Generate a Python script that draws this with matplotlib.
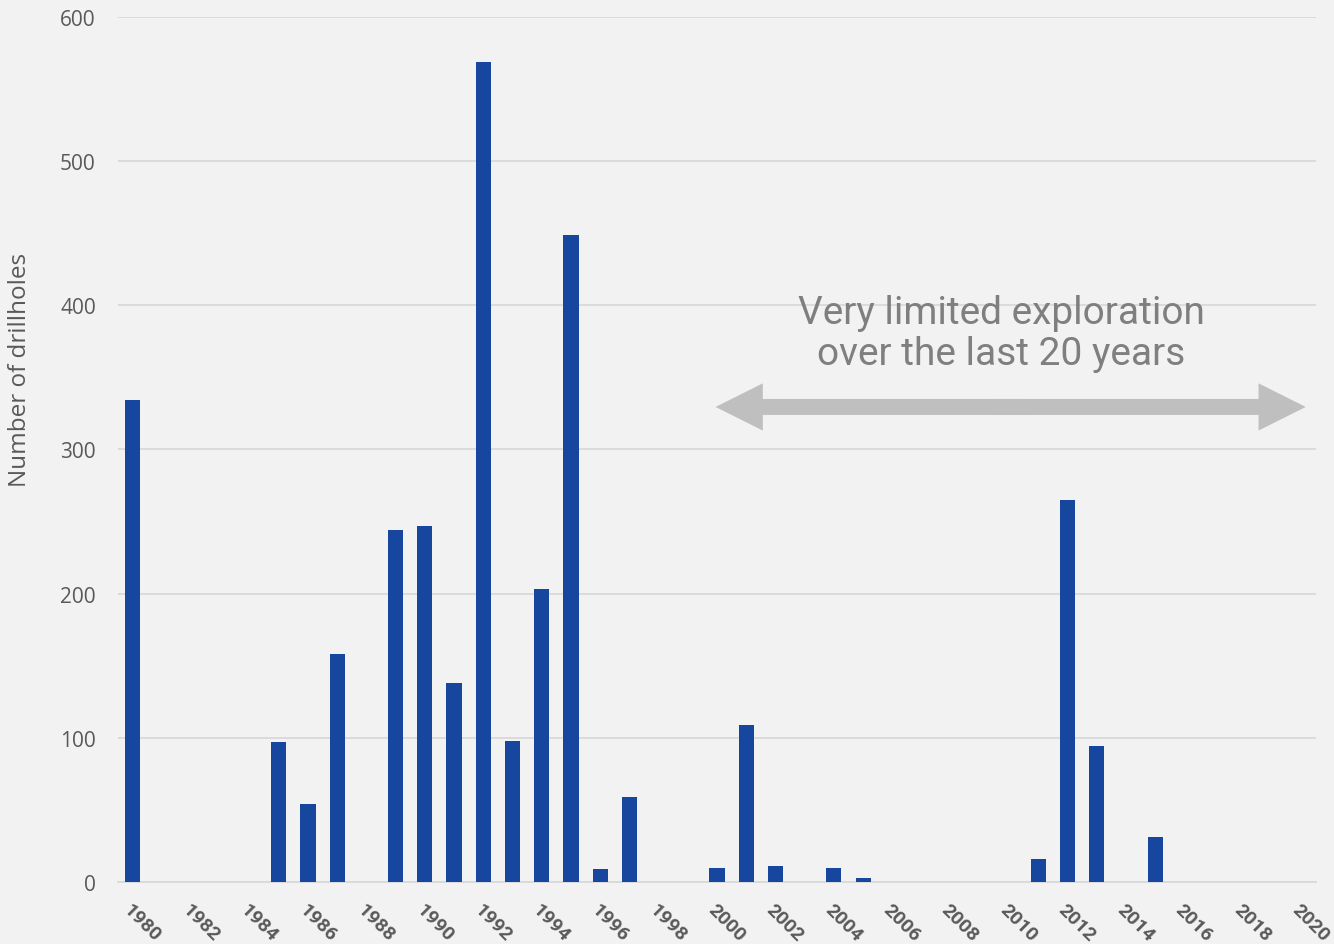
import matplotlib
matplotlib.use("Agg")
import matplotlib.pyplot as plt
from matplotlib.patches import ArrowStyle

years = list(range(1980, 2021))
values = {1980: 334, 1985: 97, 1986: 54, 1987: 158, 1989: 244, 1990: 247,
          1991: 138, 1992: 569, 1993: 98, 1994: 203, 1995: 449, 1996: 9,
          1997: 59, 2000: 10, 2001: 109, 2002: 11, 2004: 10, 2005: 3,
          2011: 16, 2012: 265, 2013: 94, 2015: 31}
counts = [values.get(y, 0) for y in years]
tick_years = list(range(1980, 2021, 2))
yticks = [0, 100, 200, 300, 400, 500, 600]

bg = "#F2F2F2"
fig = plt.figure(figsize=(13.34, 9.45), dpi=100, facecolor=bg)
ax = fig.add_axes([0.0885, 0.0656, 0.898, 0.9154])
ax.set_facecolor(bg)

ax.bar(years, counts, width=0.52, color="#17469E", zorder=3)
ax.set_xlim(1979.5, 2020.5)
ax.set_ylim(0, 600)
ax.set_yticks(yticks)
ax.yaxis.grid(True, color="#D9D9D9", linewidth=1.3, zorder=0)
for s in ["top", "right", "left"]:
    ax.spines[s].set_visible(False)
ax.spines["bottom"].set_color("#D9D9D9")
ax.spines["bottom"].set_linewidth(1.3)
ax.tick_params(axis="both", length=0, colors="#595959")
ax.tick_params(axis="y", labelsize=15, pad=16)
for lab in ax.get_yticklabels():
    lab.set_fontfamily("Open Sans")

ax.set_xticks(tick_years)
ax.set_xticklabels([str(y) for y in tick_years], rotation=-45, ha="left", va="top",
                   rotation_mode="anchor", fontsize=14, fontweight="bold",
                   fontfamily="Roboto", color="#595959")
ax.tick_params(axis="x", pad=13)

ax.set_ylabel("Number of drillholes", fontsize=17.5, color="#595959",
              fontfamily="Open Sans")
ax.yaxis.set_label_coords(-0.0718, 0.593)

# annotation arrow
style = ArrowStyle.Simple(head_length=34, head_width=34, tail_width=11.5)
mid = 2010.05
for start, end in ((mid + 0.6, 1999.95), (mid - 0.6, 2020.15)):
    ax.annotate("", xy=(end, 329.5), xytext=(start, 329.5),
                arrowprops=dict(arrowstyle=style, color="#BFBFBF", lw=0,
                                mutation_scale=1, shrinkA=0, shrinkB=0),
                annotation_clip=False, zorder=4)

ax.text(2009.72, 381, "Very limited exploration\nover the last 20 years",
        ha="center", va="center", fontsize=28, color="#7F7F7F",
        fontfamily="Roboto", linespacing=1.15, zorder=5)

fig.savefig("out.png", dpi=100, facecolor=bg)
